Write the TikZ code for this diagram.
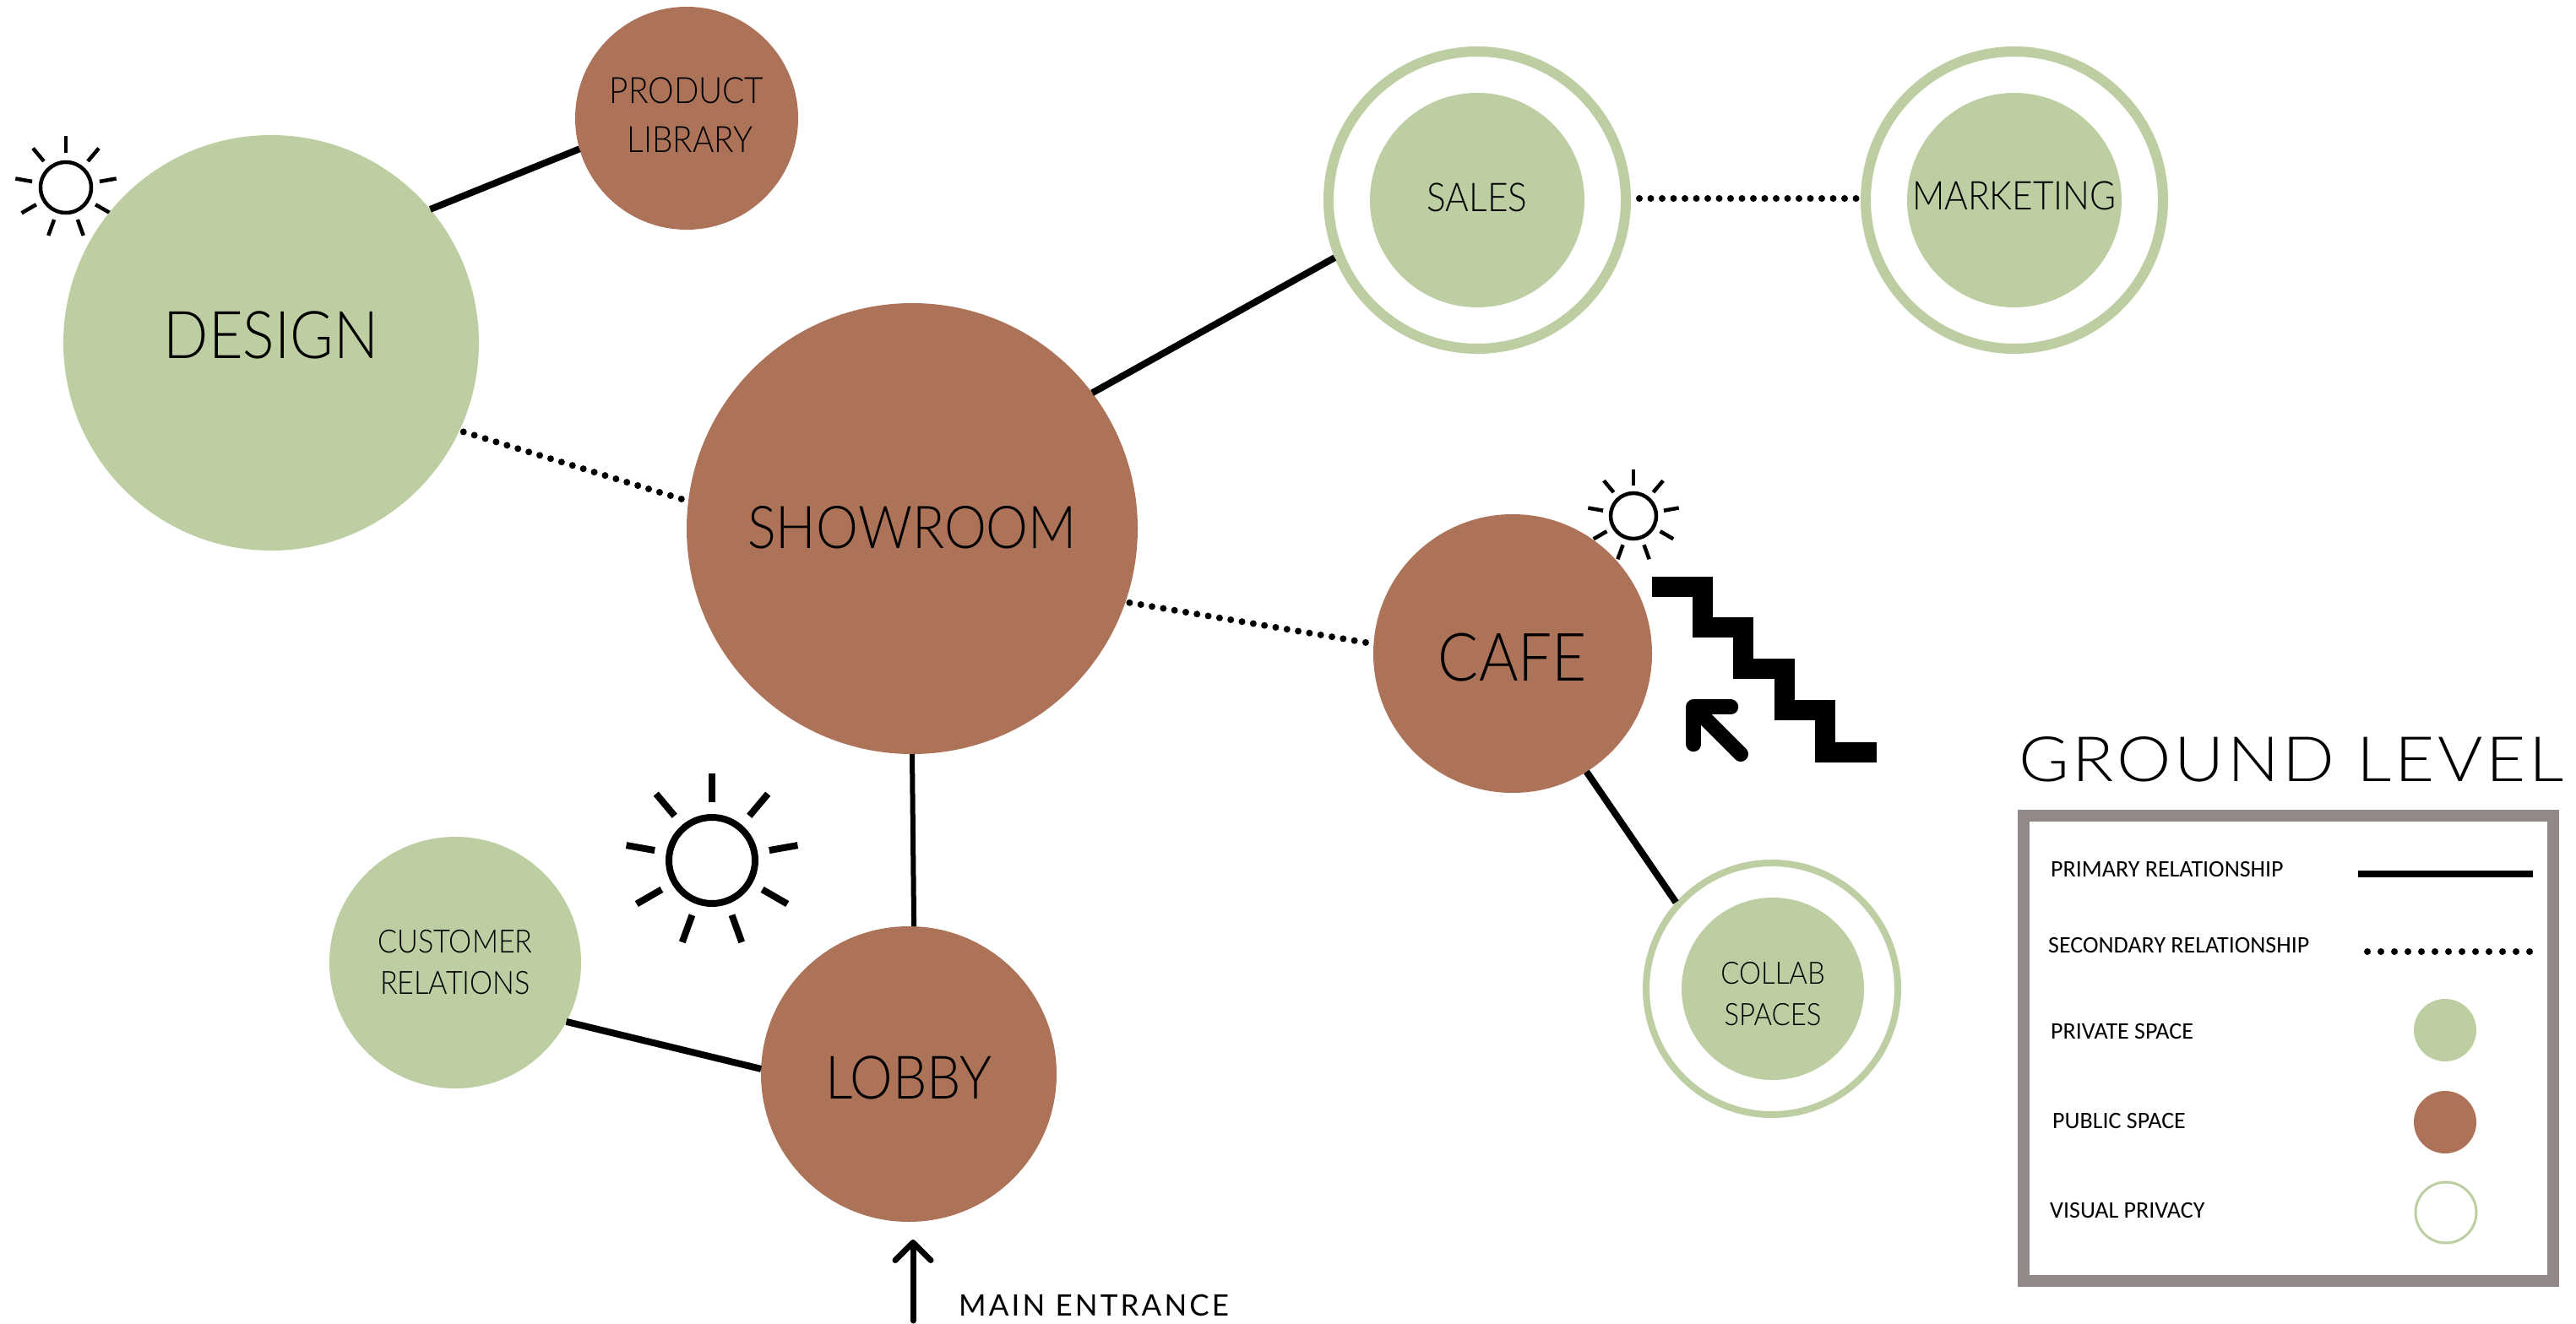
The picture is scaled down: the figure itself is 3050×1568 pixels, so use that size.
\documentclass[tikz,border=0pt]{standalone}
\usepackage{fontspec}
\usetikzlibrary{arrows.meta}
\setmainfont{Carlito}
\newfontfamily\roomfont[FakeStretch=0.9]{Lato Light}
\newfontfamily\titlefont[LetterSpace=5,FakeStretch=1.1]{Lato Light}
\newfontfamily\entrancefont[LetterSpace=9]{Lato}

\definecolor{privategreen}{RGB}{188,206,162}
\definecolor{publicbrown}{RGB}{173,115,89}
\definecolor{framegray}{RGB}{147,136,136}

\tikzset{
	private room/.style={circle, fill=privategreen, inner sep=0pt, outer sep=0pt, align=center},
	public room/.style={circle, fill=publicbrown, inner sep=0pt, outer sep=0pt, align=center},
	privacy ring/.style={circle, draw=privategreen, fill=white, line width=12pt, inner sep=0pt, outer sep=auto},
	primary/.style={black, line width=8pt},
	secondary/.style={black, line width=8pt, line cap=round, dash pattern=on 0pt off 13.5pt},
	legend text/.style={anchor=west, inner sep=0pt, font=\fontsize{28}{28}\selectfont},
}

\begin{document}
\begin{tikzpicture}[x=1pt, y=-1pt]
\useasboundingbox (0,0) rectangle (3050,1568);

% soleils
\foreach \sx/\sy/\sr/\sw in {78/222/30/4.5, 1934/611/27/4.5, 843/1019/51/8}{
	\draw[line width=\sw pt] (\sx,\sy) circle (\sr);
	\foreach \a in {-90,-50,...,230}
		\draw[line width=\sw pt] (\sx,\sy) ++(\a:1.35*\sr) -- ++(\a:0.67*\sr);
}

% espaces
\node[private room, minimum size=492pt, text depth=18pt, font=\roomfont\fontsize{78}{78}\selectfont] (design) at (321,406) {DESIGN};
\node[public room, minimum size=264pt, text depth=8pt, font=\roomfont\fontsize{43}{58}\selectfont] (library) at (813,140) {PRODUCT\\\hspace*{8pt}LIBRARY};
\node[public room, minimum size=534pt, text depth=4pt, font=\roomfont\fontsize{70}{70}\selectfont] (showroom) at (1080,626) {SHOWROOM};
\node[public room, minimum size=330pt, text height=65pt, font=\roomfont\fontsize{79}{79}\selectfont] (cafe) at (1791,774) {CAFE};
\node[public room, minimum size=350pt, text height=60pt, font=\roomfont\fontsize{71}{71}\selectfont] (lobby) at (1076,1272) {LOBBY};
\node[private room, minimum size=298pt, font=\roomfont\fontsize{38}{49}\selectfont] (customer) at (539,1140) {CUSTOMER\\RELATIONS};

\node[privacy ring, minimum size=352pt] (salesring) at (1749,237) {};
\node[private room, minimum size=254pt, text depth=6pt, font=\roomfont\fontsize{47}{47}\selectfont] (sales) at (1749,237) {SALES};
\node[privacy ring, minimum size=352pt] (marketingring) at (2385,237) {};
\node[private room, minimum size=254pt, text depth=10pt, font=\roomfont\fontsize{47}{47}\selectfont] (marketing) at (2385,237) {MARKETING};
\node[privacy ring, minimum size=298pt, line width=8pt] (collabring) at (2098,1171) {};
\node[private room, minimum size=216pt, text height=88pt, font=\roomfont\fontsize{36.5}{49}\selectfont] (collab) at (2099,1171) {COLLAB\\SPACES};

% relations
\draw[primary] (design.40) -- (library.196);
\draw[primary] (showroom.37) -- (salesring.202);
\draw[primary, line width=6pt] (showroom.south) -- (lobby.88);
\draw[primary] (customer.-28) -- (lobby.178);
\draw[primary] (cafe.-58) -- (collabring.138);
\draw[secondary, shorten <=5pt, shorten >=5pt] (design.-25) -- (showroom.173);
\draw[secondary, shorten <=5pt] (showroom.-19) -- (cafe.176);
\path (salesring.east) ++(10,-2) coordinate (salesend) (marketingring.west) ++(-2,-2) coordinate (marketingend);
\draw[secondary] (salesend) -- (marketingend);

% escalier
\draw[line width=24pt, miter limit=4] (1956,695) -- (2016,695) -- (2016,743) -- (2064,743) -- (2064,792) -- (2113,792) -- (2113,841) -- (2161,841) -- (2161,890.5) -- (2222,890.5);
\coordinate (stairstart) at (2061,893);
\coordinate (stairtip) at (1999,831);
\draw[line width=18pt, line cap=round, -{Straight Barb[length=31pt, width=62pt, round]}] (stairstart) -- (stairtip);

% entree
\coordinate (entrancestart) at (1081,1564);
\coordinate (entrancetip) at (1081,1468);
\draw[line width=7pt, line cap=round, -{Straight Barb[length=21pt, width=42pt, round]}] (entrancestart) -- (entrancetip);
\node[anchor=west, inner sep=0pt, font=\entrancefont\fontsize{35}{35}\selectfont] (entrance) at (1135,1546) {MAIN ENTRANCE};

% legende
\node[anchor=west, inner sep=0pt, font=\titlefont\fontsize{74}{74}\selectfont] (level) at (2390,899) {GROUND LEVEL};
\draw[framegray, line width=14pt] (2396,966) rectangle (3023,1517);

\node[legend text] (primarytext) at (2428,1030) {PRIMARY RELATIONSHIP};
\node[legend text] (secondarytext) at (2425,1119) {SECONDARY RELATIONSHIP};
\node[legend text] (privatetext) at (2428,1221) {PRIVATE SPACE};
\node[legend text] (publictext) at (2430,1328) {PUBLIC SPACE};
\node[legend text] (visualtext) at (2427,1434) {VISUAL PRIVACY};

\coordinate (primarystart) at (2792,1035);
\coordinate (primaryend) at (2999,1035);
\draw[black, line width=8pt] (primarystart) -- (primaryend);
\coordinate (secondarystart) at (2803,1127);
\coordinate (secondaryend) at (2996,1127);
\draw[black, line width=8pt, line cap=round, dash pattern=on 0pt off 16pt] (secondarystart) -- (secondaryend);
\node[private room, minimum size=74pt] (privatekey) at (2895,1220) {};
\node[public room, minimum size=74pt] (publickey) at (2895,1329) {};
\node[circle, draw=privategreen, line width=3pt, minimum size=72pt, inner sep=0pt] (visualkey) at (2896,1436) {};

\end{tikzpicture}
\end{document}
